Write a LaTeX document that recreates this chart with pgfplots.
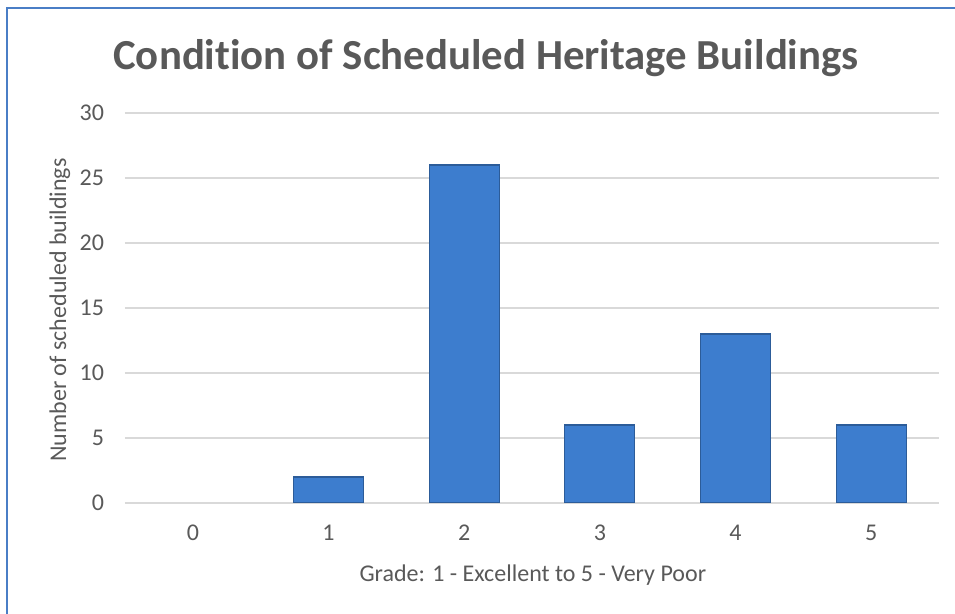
\documentclass[border=0pt]{standalone}
\usepackage{fontspec}
\setmainfont{Carlito}[Ligatures={NoCommon}]
\usepackage{pgfplots}
\pgfplotsset{compat=1.18}
\definecolor{txt}{HTML}{595959}
\definecolor{gridc}{HTML}{D9D9D9}
\definecolor{barc}{HTML}{3D7DCE}
\definecolor{bard}{HTML}{2C5C99}
\definecolor{framec}{HTML}{4A7EC6}
\begin{document}
\begin{tikzpicture}[x=1pt,y=1pt]
\path[use as bounding box] (0,0) rectangle (477.5,307);
\draw[framec, line width=0.6pt] (3.5,0) -- (3.5,303) -- (477.5,303);
\node[font=\fontsize{21.4}{26}\selectfont\bfseries, text=txt] at (243,278) {Condition of Scheduled Heritage Buildings};
\begin{axis}[
  at={(62.5pt,55.5pt)}, anchor=south west,
  scale only axis, width=407pt, height=195pt,
  xmin=-0.5, xmax=5.5, ymin=0, ymax=30,
  ytick={0,5,...,30}, xtick={0,...,5},
  axis line style={draw=none},
  major tick length=0pt,
  ymajorgrids, grid style={gridc, line width=0.8pt},
  /pgf/number format/assume math mode=true,
  tick label style={font=\fontsize{12}{14}\selectfont, text=txt},
  xticklabel style={yshift=-7.5pt},
  yticklabel style={xshift=-7pt},
  xlabel={Grade: 1 - Excellent to 5 - Very Poor},
  ylabel={Number of scheduled buildings},
  label style={font=\fontsize{12}{14}\selectfont, text=txt},
  xlabel style={at={(axis description cs:0.501,-0.185)}, anchor=center},
  ylabel style={at={(axis description cs:-0.08,0.495)}, anchor=center},
  ybar, bar width=35pt,
]
\addplot[fill=barc, draw=bard, line width=0.6pt, bar shift=0pt] coordinates {(1,2) (2,26) (3,6) (4,13) (5,6)};
\end{axis}
\end{tikzpicture}
\end{document}
